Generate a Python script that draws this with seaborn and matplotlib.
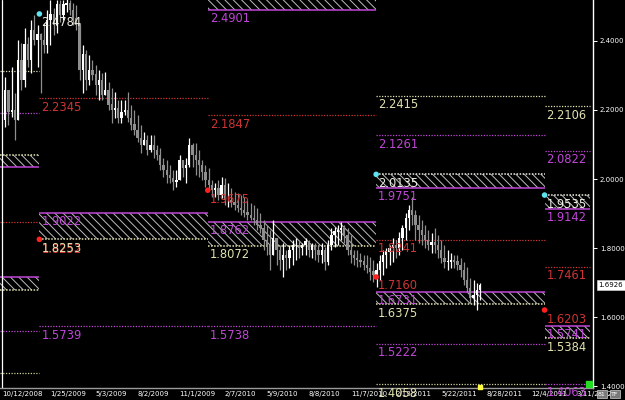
import numpy as np
import pandas as pd
import matplotlib
matplotlib.use("Agg")
import matplotlib.pyplot as plt
import matplotlib.dates as mdates
from matplotlib.patches import Rectangle
import seaborn as sns

# ---------------- data ----------------
first_week = "2008-10-19"
first_open = 2.171
high = [2.296, 2.229, 2.325, 2.249, 2.403, 2.394, 2.438, 2.412, 2.461, 2.476,
        2.447, 2.423, 2.452, 2.490, 2.519, 2.496, 2.519, 2.519, 2.519, 2.533,
        2.519, 2.510, 2.505, 2.447, 2.389, 2.374, 2.360, 2.345, 2.331, 2.316,
        2.307, 2.310, 2.281, 2.264, 2.252, 2.229, 2.229, 2.229, 2.252, 2.215,
        2.200, 2.186, 2.157, 2.136, 2.128, 2.128, 2.128, 2.099, 2.090, 2.061,
        2.055, 2.041, 2.026, 2.026, 2.070, 2.055, 2.061, 2.119, 2.104, 2.104,
        2.084, 2.055, 2.041, 2.032, 1.997, 1.989, 1.997, 2.006, 2.003, 1.989,
        1.974, 1.962, 1.960, 1.954, 1.948, 1.939, 1.931, 1.925, 1.916, 1.902,
        1.881, 1.867, 1.852, 1.881, 1.823, 1.809, 1.815, 1.794, 1.809, 1.823,
        1.829, 1.823, 1.815, 1.829, 1.823, 1.815, 1.815, 1.809, 1.815, 1.803,
        1.823, 1.858, 1.861, 1.867, 1.876, 1.867, 1.858, 1.838, 1.794, 1.794,
        1.786, 1.780, 1.780, 1.774, 1.765, 1.757, 1.780, 1.794, 1.800, 1.809,
        1.829, 1.823, 1.847, 1.867, 1.902, 1.925, 1.948, 1.910, 1.896, 1.881,
        1.867, 1.852, 1.844, 1.858, 1.838, 1.823, 1.809, 1.794, 1.786, 1.780,
        1.780, 1.771, 1.760, 1.745, 1.713, 1.707, 1.699, 1.699]
low = [2.151, 2.157, 2.180, 2.113, 2.171, 2.258, 2.267, 2.325, 2.307, 2.389,
       2.325, 2.249, 2.365, 2.365, 2.389, 2.418, 2.423, 2.455, 2.461, 2.484,
       2.476, 2.447, 2.432, 2.287, 2.249, 2.258, 2.273, 2.287, 2.244, 2.229,
       2.229, 2.244, 2.200, 2.162, 2.177, 2.162, 2.162, 2.186, 2.165, 2.142,
       2.128, 2.107, 2.076, 2.099, 2.070, 2.078, 2.061, 2.055, 2.026, 2.006,
       1.989, 1.989, 1.968, 1.977, 1.997, 2.006, 1.989, 2.035, 2.035, 2.012,
       2.006, 1.997, 1.977, 1.968, 1.948, 1.948, 1.939, 1.945, 1.925, 1.919,
       1.919, 1.910, 1.904, 1.896, 1.890, 1.881, 1.881, 1.867, 1.852, 1.844,
       1.794, 1.780, 1.736, 1.794, 1.751, 1.736, 1.716, 1.736, 1.742, 1.751,
       1.765, 1.771, 1.780, 1.780, 1.774, 1.771, 1.765, 1.760, 1.757, 1.736,
       1.751, 1.794, 1.803, 1.809, 1.823, 1.815, 1.780, 1.757, 1.751, 1.745,
       1.745, 1.736, 1.728, 1.707, 1.702, 1.687, 1.707, 1.722, 1.742, 1.751,
       1.760, 1.771, 1.780, 1.794, 1.823, 1.852, 1.867, 1.823, 1.815, 1.809,
       1.800, 1.794, 1.786, 1.786, 1.771, 1.757, 1.742, 1.736, 1.742, 1.742,
       1.736, 1.716, 1.693, 1.673, 1.641, 1.635, 1.620, 1.649]
close = [2.258, 2.194, 2.200, 2.171, 2.345, 2.287, 2.389, 2.345, 2.432, 2.403,
         2.418, 2.403, 2.389, 2.461, 2.476, 2.447, 2.505, 2.476, 2.505, 2.510,
         2.490, 2.467, 2.447, 2.316, 2.360, 2.287, 2.316, 2.302, 2.273, 2.287,
         2.244, 2.258, 2.215, 2.200, 2.206, 2.177, 2.194, 2.200, 2.177, 2.157,
         2.142, 2.119, 2.099, 2.113, 2.084, 2.099, 2.084, 2.070, 2.041, 2.026,
         2.012, 2.003, 1.991, 1.997, 2.055, 2.032, 2.041, 2.099, 2.070, 2.055,
         2.041, 2.020, 1.997, 1.983, 1.968, 1.974, 1.954, 1.983, 1.939, 1.939,
         1.931, 1.925, 1.916, 1.910, 1.902, 1.896, 1.887, 1.881, 1.867, 1.858,
         1.823, 1.809, 1.780, 1.829, 1.794, 1.765, 1.780, 1.771, 1.794, 1.809,
         1.809, 1.800, 1.809, 1.818, 1.794, 1.809, 1.794, 1.780, 1.794, 1.760,
         1.809, 1.838, 1.847, 1.852, 1.858, 1.838, 1.794, 1.780, 1.771, 1.765,
         1.760, 1.751, 1.742, 1.731, 1.722, 1.736, 1.760, 1.780, 1.789, 1.800,
         1.809, 1.800, 1.829, 1.858, 1.887, 1.910, 1.896, 1.867, 1.852, 1.838,
         1.823, 1.809, 1.815, 1.809, 1.794, 1.771, 1.760, 1.760, 1.765, 1.760,
         1.751, 1.736, 1.707, 1.684, 1.655, 1.664, 1.678, 1.6926]

# yearly periods
period_start = ["2008-10-07", "2009-01-01", "2010-01-01", "2011-01-01", "2012-01-01"]
period_end = ["2009-01-01", "2010-01-01", "2011-01-01", "2012-01-01", "2012-04-09"]

# dotted level lines: period index, price, kind
line_period = [0, 0, 0, 0, 0, 1, 1, 2, 2, 3, 3, 3, 3, 3, 4, 4, 4, 4]
line_price = [2.313, 2.191, 1.876, 1.559, 1.437,
              2.2345, 1.5739,
              2.1847, 1.5738,
              2.2415, 2.1261, 1.8241, 1.5222, 1.4058,
              2.2106, 2.0822, 1.7461, 1.4063]
line_kind = ["Y", "M", "R", "M", "O",
             "R", "M",
             "R", "M",
             "Y", "M", "R", "M", "O",
             "Y", "M", "R", "M"]

# hatched zones: period, top, bottom, top-edge kind, bottom-edge kind
box_period = [0, 0, 1, 2, 2, 3, 3, 4, 4]
box_top = [2.070, 1.716, 1.9022, 2.600, 1.8762, 2.0135, 1.6731, 1.9535, 1.5741]
box_bottom = [2.035, 1.678, 1.8253, 2.4901, 1.8072, 1.9751, 1.6375, 1.9142, 1.5384]
box_top_kind = ["Y", "M", "M", "M", "M", "W", "M", "W", "M"]
box_bottom_kind = ["M", "Y", "Y", "M", "Y", "M", "Y", "M", "Y"]

# labels: period, price, text, kind
label_period = [1, 1, 1, 1, 1, 1,
                2, 2, 2, 2, 2, 2,
                3, 3, 3, 3, 3, 3, 3, 3, 3, 3,
                4, 4, 4, 4, 4, 4, 4, 4, 4]
label_price = [2.4784, 2.2345, 1.9022, 1.8252, 1.8253, 1.5739,
               2.4901, 2.1847, 1.9675, 1.8762, 1.8072, 1.5738,
               2.2415, 2.1261, 2.0135, 1.9751, 1.8241, 1.7160, 1.6731, 1.6375, 1.5222, 1.4058,
               2.2106, 2.0822, 1.9535, 1.9142, 1.7461, 1.6203, 1.5741, 1.5384, 1.4063]
label_text = ["2.4784", "2.2345", "1.9022", "1.8252", "1.8253", "1.5739",
              "2.4901", "2.1847", "1.9675", "1.8762", "1.8072", "1.5738",
              "2.2415", "2.1261", "2.0135", "1.9751", "1.8241", "1.7160", "1.6731", "1.6375", "1.5222", "1.4058",
              "2.2106", "2.0822", "1.9535", "1.9142", "1.7461", "1.6203", "1.5741", "1.5384", "1.4063"]
label_kind = ["W", "R", "M", "R", "Y", "M",
              "M", "R", "R", "M", "Y", "M",
              "Y", "M", "W", "M", "R", "R", "M", "Y", "M", "Y",
              "Y", "M", "W", "M", "R", "R", "M", "Y", "M"]

# yearly open (cyan) / close (red) markers
open_dot_date = ["2009-01-01", "2011-01-01", "2012-01-01"]
open_dot_price = [2.4784, 2.0135, 1.9535]
close_dot_date = ["2009-01-01", "2010-01-01", "2011-01-01", "2012-01-01"]
close_dot_price = [1.8252, 1.9675, 1.7160, 1.6203]

x_ticks = ["2008-10-12", "2009-01-25", "2009-05-03", "2009-08-02", "2009-11-01",
           "2010-02-07", "2010-05-09", "2010-08-08", "2010-11-07", "2011-02-13",
           "2011-05-22", "2011-08-28", "2011-12-04", "2012-03-11"]
y_ticks = [1.4, 1.6, 1.8, 2.0, 2.2, 2.4]
last_price = 1.6926

# ---------------- style ----------------
sns.set_style("dark", {"axes.facecolor": "black", "figure.facecolor": "black",
                       "axes.grid": False})
plt.rcParams["font.family"] = ["DejaVu Sans"]
plt.rcParams["hatch.linewidth"] = 0.7

COL = {"M": "#c046d8", "R": "#d03434", "Y": "#e2e2b0", "O": "#cfcf98", "W": "#eeeee4"}

fig = plt.figure(figsize=(6.25, 4), dpi=100, facecolor="black")
ax = fig.add_axes([0, 12 / 400, 593 / 625, 388 / 400])
ax.set_facecolor("black")

dates = pd.date_range(first_week, periods=len(close), freq="7D")
opens = [first_open] + close[:-1]
o = np.array(opens); c = np.array(close); h = np.array(high); l = np.array(low)
up = c >= o
top_w = np.maximum.reduce([h, o, c]); bot_w = np.minimum.reduce([l, o, c])
colors = np.where(up, "#ffffff", "#8e8e8e")

# hatched zones
ps = [mdates.date2num(pd.Timestamp(d)) for d in period_start]
pe = [mdates.date2num(pd.Timestamp(d)) for d in period_end]
for p, t, b, tk, bk in zip(box_period, box_top, box_bottom, box_top_kind, box_bottom_kind):
    ax.add_patch(Rectangle((ps[p], b), pe[p] - ps[p], t - b, facecolor="none",
                           edgecolor="#bdbdbd", hatch="\\\\\\\\", lw=0, zorder=1))
    for val, k in ((t, tk), (b, bk)):
        ls = "-" if k == "M" else (0, (1, 1))
        ax.hlines(val, ps[p], pe[p], colors=COL[k], linestyles=ls, lw=1.1, zorder=2)

# dotted lines
for p, v, k in zip(line_period, line_price, line_kind):
    ax.hlines(v, ps[p], pe[p], colors=COL[k], linestyles=(0, (1, 1.2)), lw=0.9, zorder=2)

# candles
ax.vlines(dates, bot_w, top_w, colors=colors, lw=0.9, zorder=3)
ax.bar(dates, np.abs(c - o) + 0.002, bottom=np.minimum(o, c) - 0.001, width=5.0,
       color=colors, linewidth=0, zorder=3)

# start marker line
ax.axvline(pd.Timestamp("2008-10-12"), color="white", lw=0.9, zorder=2)

# labels
for p, v, t, k in zip(label_period, label_price, label_text, label_kind):
    dy = -2.5 if t != "1.8252" else -3.5
    ax.annotate(t, xy=(ps[p], v), xytext=(2, dy), textcoords="offset pixels",
                ha="left", va="top", fontsize=8.3, color=COL[k],
                zorder=5, annotation_clip=False)

# dots
sns.scatterplot(x=pd.to_datetime(open_dot_date), y=open_dot_price, ax=ax,
                color="#5fe3f0", s=16, edgecolor="none", zorder=6)
sns.scatterplot(x=pd.to_datetime(close_dot_date), y=close_dot_price, ax=ax,
                color="#ff2020", s=16, edgecolor="none", zorder=6)
ax.scatter([pd.Timestamp("2012-04-07")], [1.407], marker="s", s=22,
           color="#22dd22", zorder=6, clip_on=False)
ax.scatter([pd.Timestamp("2011-08-14")], [1.3975], marker="s", s=5,
           color="#ffff40", zorder=6, clip_on=False)

# axes
ax.set_xlim(mdates.date2num(pd.Timestamp("2008-10-07 16:00")),
            mdates.date2num(pd.Timestamp("2012-04-15")))
ax.set_ylim(1.3943, 2.5188)
ax.set_xlabel(""); ax.set_ylabel("")
for s in ("left", "top"):
    ax.spines[s].set_visible(False)
ax.spines["right"].set_color("white"); ax.spines["right"].set_linewidth(1.0)
ax.spines["bottom"].set_color("#9a9a9a"); ax.spines["bottom"].set_linewidth(1.0)

ax.yaxis.tick_right()
ax.set_yticks(y_ticks)
ax.set_yticklabels([f"{v:.4f}" for v in y_ticks])
ax.tick_params(axis="y", colors="white", labelsize=5, length=3, width=0.7, pad=2)
xt = pd.to_datetime(x_ticks)
ax.set_xticks(mdates.date2num(xt))
ax.set_xticklabels([f"{d.month}/{d.day}/{d.year}" for d in xt], ha="left")
ax.tick_params(axis="x", colors="#9a9a9a", labelcolor="white", labelsize=5,
               length=3, width=0.7, pad=1, direction="inout")

# current price tag
ax.annotate(f"{last_price:.4f}", xy=(1.0, last_price), xycoords=("axes fraction", "data"),
            xytext=(4, 0), textcoords="offset points", ha="left", va="center",
            fontsize=5, color="black",
            bbox=dict(boxstyle="square,pad=0.25", fc="white", ec="#cccccc", lw=0.5),
            annotation_clip=False)

fig.text(598 / 625, 1 - 394 / 400, "81", fontsize=4.5, color="white", ha="left", va="center",
         bbox=dict(boxstyle="square,pad=0.2", fc="#7a7a7a", ec="#d0d0d0", lw=0.5))
fig.text(611 / 625, 1 - 394 / 400, "TF", fontsize=4.5, color="white", ha="left", va="center",
         bbox=dict(boxstyle="square,pad=0.2", fc="#7a7a7a", ec="#d0d0d0", lw=0.5))

fig.savefig("out.png", dpi=100, facecolor="black")
